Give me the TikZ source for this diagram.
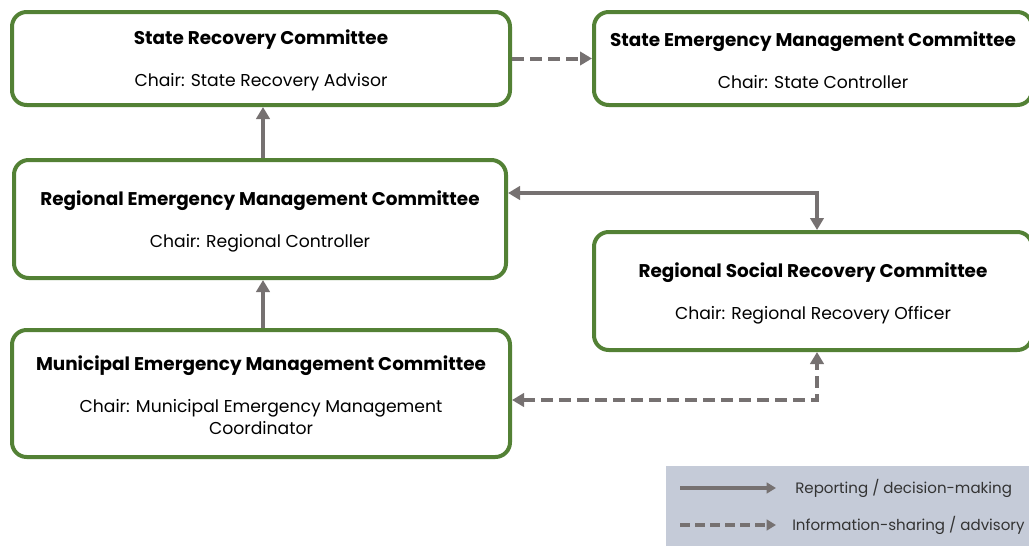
\documentclass[tikz,border=0pt]{standalone}
\usepackage{fontspec}
\setmainfont{Poppins}
\usetikzlibrary{arrows.meta, calc, positioning}

\definecolor{boxgreen}{HTML}{538135}
\definecolor{linegray}{HTML}{767171}
\definecolor{legendbg}{HTML}{C5CBD8}

\begin{document}
\begin{tikzpicture}[
        x=0.75pt, y=-0.75pt,
        box/.style={draw=boxgreen, line width=3pt, rounded corners=11pt, align=center,
            font=\fontsize{12.9}{16.5}\selectfont, inner sep=0pt},
        arrow/.style={draw=linegray, line width=3pt, -{Triangle[length=9pt, width=10pt]}},
        twoway/.style={arrow, {Triangle[length=9pt, width=10pt]}-{Triangle[length=9pt, width=10pt]}},
        dasharrow/.style={arrow, dash pattern=on 9pt off 4.5pt},
        legendtext/.style={anchor=west, inner sep=0pt, text=black!80, font=\fontsize{11.3}{13}\selectfont}
    ]
    \useasboundingbox (0,0) rectangle (1029,546);

    % committees
    \newcommand\boxtitle[1]{\rule{0pt}{14pt}{\fontsize{13.8}{16.5}\selectfont\bfseries #1}}
    \node[box, minimum width=498*0.75pt, minimum height=93*0.75pt] (src) at (261,58.5)
        {\boxtitle{State Recovery Committee}\\[15pt] Chair: State Recovery Advisor};
    \node[box, minimum width=438*0.75pt, minimum height=93*0.75pt] (semc) at (813,58.5)
        {\boxtitle{State Emergency Management Committee}\\[15pt] Chair: State Controller};
    \node[box, minimum width=492*0.75pt, minimum height=118*0.75pt] (remc) at (260,219)
        {\boxtitle{Regional Emergency Management Committee}\\[15pt] Chair: Regional Controller};
    \node[box, minimum width=438*0.75pt, minimum height=118*0.75pt] (rsrc) at (813,291)
        {\boxtitle{Regional Social Recovery Committee}\\[15pt] Chair: Regional Recovery Officer};
    \node[box, minimum width=498*0.75pt, minimum height=127*0.75pt] (memc) at (261,393.5)
        {\boxtitle{Municipal Emergency Management Committee}\\[15pt]
         Chair: Municipal Emergency Management\\ Coordinator};

    % reporting lines
    \draw[arrow] (remc.north -| 263,0) -- (src.south -| 263,0);
    \draw[arrow] (memc.north -| 263,0) -- (remc.south -| 263,0);
    \coordinate (upbend) at (817,193);
    \draw[twoway] (remc.east |- upbend) -- (upbend) -- (rsrc.north -| upbend);

    % advisory lines
    \draw[dasharrow] (src.east) -- (semc.west);
    \coordinate (downbend) at (817,400);
    \draw[dasharrow, {Triangle[length=9pt, width=10pt]}-{Triangle[length=9pt, width=10pt]}]
        (memc.east |- downbend) -- (downbend) -- (rsrc.south -| downbend);

    % legend
    \node[fill=legendbg, minimum width=366*0.75pt, minimum height=82*0.75pt, inner sep=0pt] (legend) at (849,507) {};
    \coordinate (solidstart) at (680,488);
    \coordinate (solidend) at (776,488);
    \coordinate (dashstart) at (680,525);
    \coordinate (dashend) at (776,525);
    \draw[arrow, line width=2.5pt, -{Triangle[length=7pt, width=8pt]}] (solidstart) -- (solidend);
    \draw[arrow, line width=2.5pt, dash pattern=on 7.5pt off 3.75pt, -{Triangle[length=7pt, width=8pt]}] (dashstart) -- (dashend);
    \node[legendtext] (reporting) at (795,488) {Reporting / decision-making};
    \node[legendtext] (advisory) at (792,525) {Information-sharing / advisory};

\end{tikzpicture}
\end{document}
